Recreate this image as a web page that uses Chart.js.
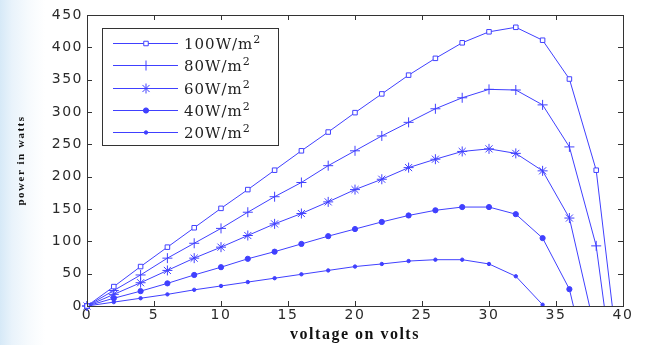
<!DOCTYPE html>
<html>
<head>
<meta charset="utf-8">
<script src="https://cdn.jsdelivr.net/npm/chart.js@4.4.1/dist/chart.umd.min.js"></script>
<style>
  html, body { margin: 0; padding: 0; }
  body {
    width: 649px; height: 345px; overflow: hidden;
    background: linear-gradient(to right, #d6e9f7 0px, #e9f3fb 12px, #f6fafd 28px, #ffffff 45px);
  }
  #wrap { position: relative; width: 649px; height: 345px; }
</style>
</head>
<body>
<div id="wrap"><canvas id="pv"></canvas></div>
<script>
// P-V curves
const labels = ['100W/m', '80W/m', '60W/m', '40W/m', '20W/m'];

const volts100 = [0, 2, 4, 6, 8, 10, 12, 14, 16, 18, 20, 22, 24, 26, 28, 30, 32, 34, 36, 38, 39.2];
const power100 = [0, 30, 61, 91, 121, 151, 180, 210, 240, 269, 299, 328, 357, 383, 407, 424, 431, 411, 351, 210, 0];

const volts80 = [0, 2, 4, 6, 8, 10, 12, 14, 16, 18, 20, 22, 24, 26, 28, 30, 32, 34, 36, 38, 38.6];
const power80 = [0, 24, 48, 74, 97, 120, 145, 169, 191, 217, 240, 263, 284, 305, 322, 335, 334, 311, 246, 93, 0];

const volts60 = [0, 2, 4, 6, 8, 10, 12, 14, 16, 18, 20, 22, 24, 26, 28, 30, 32, 34, 36, 37.5];
const power60 = [0, 18, 36, 55, 74, 91, 109, 127, 143, 161, 180, 196, 214, 227, 239, 243, 236, 209, 136, 0];

const volts40 = [0, 2, 4, 6, 8, 10, 12, 14, 16, 18, 20, 22, 24, 26, 28, 30, 32, 34, 36, 36.3];
const power40 = [0, 12, 23, 35, 48, 60, 73, 84, 96, 108, 119, 130, 140, 148, 153, 153, 142, 105, 26, 0];

const volts20 = [0, 2, 4, 6, 8, 10, 12, 14, 16, 18, 20, 22, 24, 26, 28, 30, 32, 34];
const power20 = [0, 6, 12, 18, 25, 31, 37, 43, 49, 55, 61, 65, 69.5, 71.6, 71.6, 65, 46, 2];

const xTicks = [0, 5, 10, 15, 20, 25, 30, 35, 40];
const yTicks = [0, 50, 100, 150, 200, 250, 300, 350, 400, 450];

const blue = '#4040ff';

function toPoints(xs, ys) {
    return xs.map((x, i) => ({ x: x, y: ys[i] }));
}

// last point of the curves that run into the axis carries no marker
function radii(n, r, lastMarker) {
    const out = new Array(n).fill(r);
    if (!lastMarker) out[n - 1] = 0;
    return out;
}

const markers = [
    { style: 'rect', r: 3.2, fill: '#ffffff' },
    { style: 'cross', r: 5, fill: blue },
    { style: 'star', r: 5, fill: blue },
    { style: 'circle', r: 2.6, fill: blue },
    { style: 'circle', r: 1.7, fill: blue }
];

const series = [
    toPoints(volts100, power100),
    toPoints(volts80, power80),
    toPoints(volts60, power60),
    toPoints(volts40, power40),
    toPoints(volts20, power20)
];

const datasets = series.map((pts, i) => ({
    label: labels[i],
    data: pts,
    borderColor: blue,
    borderWidth: 1,
    backgroundColor: markers[i].fill,
    pointStyle: markers[i].style,
    pointRadius: radii(pts.length, markers[i].r, i === 4),
    pointBorderColor: blue,
    pointBackgroundColor: markers[i].fill,
    pointBorderWidth: 1,
    tension: 0,
    clip: false
}));

// frame, inward ticks on all four sides, boxed legend
const matlabAxes = {
    id: 'matlabAxes',
    beforeDraw(chart) {
        chart.ctx.letterSpacing = '1.5px';
    },
    afterDraw(chart) {
        const ctx = chart.ctx;
        const a = chart.chartArea;
        const xs = chart.scales.x;
        const ys = chart.scales.y;
        ctx.save();
        ctx.letterSpacing = '0px';
        ctx.strokeStyle = '#333';
        ctx.lineWidth = 1;
        ctx.strokeRect(Math.round(a.left) + 0.5, Math.round(a.top) + 0.5,
            Math.round(a.right - a.left), Math.round(a.bottom - a.top));
        ctx.beginPath();
        xTicks.forEach(v => {
            const px = Math.round(xs.getPixelForValue(v)) + 0.5;
            ctx.moveTo(px, a.bottom); ctx.lineTo(px, a.bottom - 5);
            ctx.moveTo(px, a.top); ctx.lineTo(px, a.top + 5);
        });
        yTicks.forEach(v => {
            const py = Math.round(ys.getPixelForValue(v)) + 0.5;
            ctx.moveTo(a.left, py); ctx.lineTo(a.left + 5, py);
            ctx.moveTo(a.right, py); ctx.lineTo(a.right - 5, py);
        });
        ctx.stroke();

        // legend
        const bx = 102.5, by = 28.5, bw = 176, bh = 117;
        ctx.fillStyle = '#fff';
        ctx.fillRect(bx, by, bw, bh);
        ctx.strokeStyle = '#333';
        ctx.strokeRect(bx, by, bw, bh);
        const rows = [43, 65, 88, 110, 132];
        chart.data.datasets.forEach((ds, i) => {
            const y = rows[i];
            ctx.strokeStyle = blue;
            ctx.lineWidth = 1;
            ctx.beginPath();
            ctx.moveTo(113, y + 0.5);
            ctx.lineTo(178, y + 0.5);
            ctx.stroke();
            ctx.fillStyle = markers[i].fill;
            Chart.helpers.drawPoint(ctx, {
                pointStyle: markers[i].style,
                radius: markers[i].r,
                rotation: 0,
                borderWidth: 1
            }, 146, y + 0.5);
            ctx.fillStyle = '#222';
            ctx.font = '15px "DejaVu Serif"';
            ctx.letterSpacing = '1px';
            ctx.textAlign = 'left';
            ctx.textBaseline = 'middle';
            ctx.fillText(ds.label, 184, y + 2);
            const w = ctx.measureText(ds.label).width;
            ctx.font = '11px "DejaVu Serif"';
            ctx.fillText('2', 184 + w, y - 3);
        });
        ctx.restore();
    }
};

new Chart(document.getElementById('pv'), {
    type: 'line',
    data: { datasets: datasets },
    options: {
        responsive: true,
        maintainAspectRatio: false,
        animation: false,
        layout: { padding: { left: 0, top: 15, right: 26, bottom: 0 } },
        plugins: {
            legend: { display: false },
            tooltip: { enabled: false }
        },
        scales: {
            x: {
                type: 'linear',
                min: 0,
                max: 40,
                afterBuildTicks: (scale) => { scale.ticks = xTicks.map(v => ({ value: v })); },
                afterFit: (scale) => { scale.height = 39; },
                grid: { display: false, drawTicks: false },
                border: { display: false },
                ticks: {
                    padding: 1,
                    color: '#2a2a2a',
                    font: { family: '"DejaVu Sans"', size: 14 },
                    maxRotation: 0
                },
                title: {
                    display: true,
                    text: 'voltage on volts',
                    color: '#111',
                    font: { family: '"Liberation Serif"', size: 16, weight: 'bold' },
                    padding: { top: 0, bottom: 1 }
                }
            },
            y: {
                min: 0,
                max: 450,
                afterBuildTicks: (scale) => { scale.ticks = yTicks.map(v => ({ value: v })); },
                afterFit: (scale) => { scale.width = 87; },
                grid: { display: false, drawTicks: false },
                border: { display: false },
                ticks: {
                    padding: 4,
                    color: '#2a2a2a',
                    font: { family: '"DejaVu Sans"', size: 14 }
                },
                title: {
                    display: true,
                    text: 'power in watts',
                    color: '#111',
                    font: { family: '"Liberation Serif"', size: 11, weight: 'bold' },
                    padding: { top: 15, bottom: 0 }
                }
            }
        }
    },
    plugins: [matlabAxes]
});
</script>
</body>
</html>
